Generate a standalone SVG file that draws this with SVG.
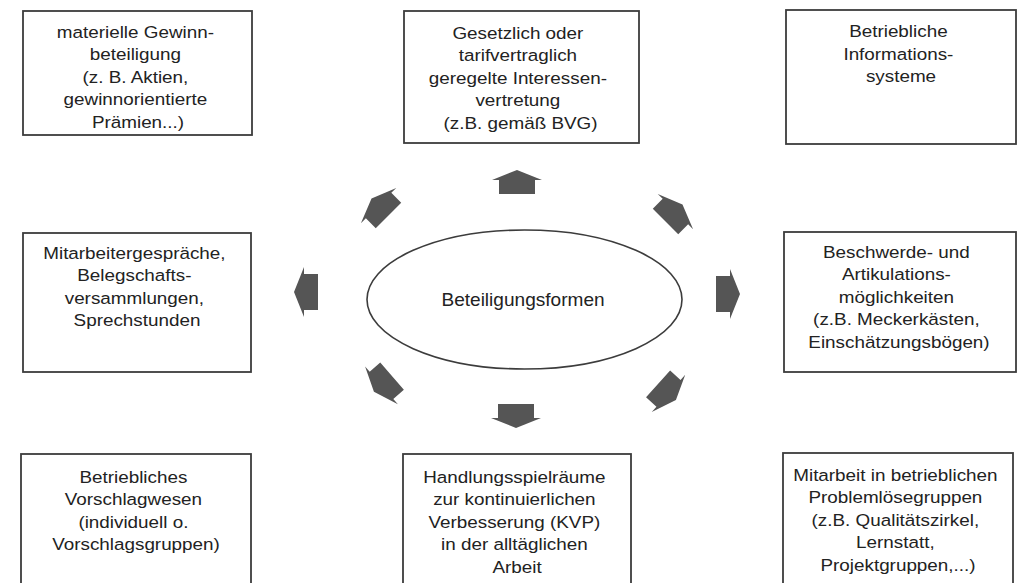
<svg xmlns="http://www.w3.org/2000/svg" width="1023" height="583" viewBox="0 0 1023 583">
  <style>
    .box { fill: #ffffff; stroke: #3c3c3c; stroke-width: 1.8; }
    .lbl { font-family: "Liberation Sans", Arial, Helvetica, sans-serif; font-size: 17px; fill: #222222; text-anchor: middle; }
    .hub { font-family: "Liberation Sans", Arial, Helvetica, sans-serif; font-size: 18px; fill: #222222; text-anchor: middle; }
    .arrow { fill: #555555; }
  </style>
  <defs>
    <!-- block arrow pointing up, centred on the origin -->
    <path id="blockArrow" d="M0,-12 L25,-2 L18,-2 L18,12 L-18,12 L-18,-2 L-25,-2 Z"/>
  </defs>

  <rect width="1023" height="583" fill="#ffffff"/>

  <g id="hub">
    <ellipse cx="524.5" cy="299.5" rx="157.5" ry="69.5" fill="none" stroke="#3c3c3c" stroke-width="1.6"/>
    <text class="hub" transform="translate(523 0) scale(1.06 1)" x="0" y="306.5">Beteiligungsformen</text>
  </g>

  <g id="connectors" class="arrow">
    <use href="#blockArrow" transform="translate(517 182)"/>
    <use href="#blockArrow" transform="translate(674 213) rotate(45)"/>
    <use href="#blockArrow" transform="translate(728 294) rotate(90)"/>
    <use href="#blockArrow" transform="translate(667 392) rotate(132)"/>
    <use href="#blockArrow" transform="translate(516 416) rotate(180)"/>
    <use href="#blockArrow" transform="translate(383 384) rotate(-131)"/>
    <use href="#blockArrow" transform="translate(306 292) rotate(-90)"/>
    <use href="#blockArrow" transform="translate(380 207) rotate(-45)"/>
  </g>

  <g id="node-gewinnbeteiligung">
    <rect class="box" x="23" y="11" width="229" height="124"/>
    <text class="lbl" transform="translate(138 0) scale(1.11 1)">
      <tspan x="0" y="38">materielle Gewinn-</tspan>
      <tspan x="0" y="60.5">beteiligung</tspan>
      <tspan x="0" y="83">(z. B. Aktien,</tspan>
      <tspan x="0" y="105.5">gewinnorientierte</tspan>
      <tspan x="0" y="128">Prämien...)</tspan>
    </text>
  </g>

  <g id="node-interessenvertretung">
    <rect class="box" x="404" y="11" width="235" height="132"/>
    <text class="lbl" transform="translate(520.5 0) scale(1.11 1)">
      <tspan x="0" y="39">Gesetzlich oder</tspan>
      <tspan x="0" y="61.5">tarifvertraglich</tspan>
      <tspan x="0" y="84">geregelte Interessen-</tspan>
      <tspan x="0" y="106.5">vertretung</tspan>
      <tspan x="0" y="129">(z.B. gemäß BVG)</tspan>
    </text>
  </g>

  <g id="node-informationssysteme">
    <rect class="box" x="786" y="10" width="230" height="134"/>
    <text class="lbl" transform="translate(901 0) scale(1.11 1)">
      <tspan x="0" y="37.5">Betriebliche</tspan>
      <tspan x="0" y="60">Informations-</tspan>
      <tspan x="0" y="82.5">systeme</tspan>
    </text>
  </g>

  <g id="node-mitarbeitergespraeche">
    <rect class="box" x="23" y="233" width="228" height="139"/>
    <text class="lbl" transform="translate(137 0) scale(1.11 1)">
      <tspan x="0" y="259">Mitarbeitergespräche,</tspan>
      <tspan x="0" y="281.5">Belegschafts-</tspan>
      <tspan x="0" y="304">versammlungen,</tspan>
      <tspan x="0" y="326.5">Sprechstunden</tspan>
    </text>
  </g>

  <g id="node-beschwerde">
    <rect class="box" x="784" y="232" width="232" height="140"/>
    <text class="lbl" transform="translate(899 0) scale(1.11 1)">
      <tspan x="0" y="258">Beschwerde- und</tspan>
      <tspan x="0" y="280.5">Artikulations-</tspan>
      <tspan x="0" y="303">möglichkeiten</tspan>
      <tspan x="0" y="325.5">(z.B. Meckerkästen,</tspan>
      <tspan x="0" y="348">Einschätzungsbögen)</tspan>
    </text>
  </g>

  <g id="node-vorschlagwesen">
    <rect class="box" x="21" y="454" width="230" height="140"/>
    <text class="lbl" transform="translate(136 0) scale(1.11 1)">
      <tspan x="0" y="483">Betriebliches</tspan>
      <tspan x="0" y="505.5">Vorschlagwesen</tspan>
      <tspan x="0" y="528">(individuell o.</tspan>
      <tspan x="0" y="550.5">Vorschlagsgruppen)</tspan>
    </text>
  </g>

  <g id="node-kvp">
    <rect class="box" x="403" y="454" width="228" height="140"/>
    <text class="lbl" transform="translate(517 0) scale(1.11 1)">
      <tspan x="0" y="483">Handlungsspielräume</tspan>
      <tspan x="0" y="505.5">zur kontinuierlichen</tspan>
      <tspan x="0" y="528">Verbesserung (KVP)</tspan>
      <tspan x="0" y="550.5">in der alltäglichen</tspan>
      <tspan x="0" y="573">Arbeit</tspan>
    </text>
  </g>

  <g id="node-problemloesegruppen">
    <rect class="box" x="783" y="453" width="230" height="141"/>
    <text class="lbl" transform="translate(898 0) scale(1.11 1)">
      <tspan x="0" y="481">Mitarbeit in betrieblichen</tspan>
      <tspan x="0" y="503.5">Problemlösegruppen</tspan>
      <tspan x="0" y="526">(z.B. Qualitätszirkel,</tspan>
      <tspan x="0" y="548.5">Lernstatt,</tspan>
      <tspan x="0" y="571">Projektgruppen,...)</tspan>
    </text>
  </g>
</svg>
